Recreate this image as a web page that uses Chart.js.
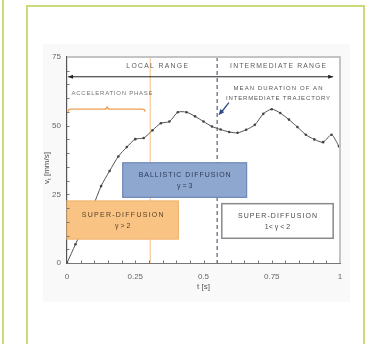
<!DOCTYPE html>
<html>
<head>
<meta charset="utf-8">
<script src="https://cdn.jsdelivr.net/npm/chart.js@4.4.1/dist/chart.umd.min.js"></script>
<style>
  html, body { margin: 0; padding: 0; background: #fff; width: 374px; height: 344px; overflow: hidden; }
  #rule { position: absolute; left: 2px; top: 0; width: 2px; height: 344px; background: #c9dc7c; }
  #panel { position: absolute; left: 26px; top: 5px; width: 335px; height: 400px;
           border: 2px solid #c9dc7c; border-bottom: none; }
  #wrap { position: absolute; left: 0; top: 0; width: 374px; height: 344px; }
</style>
</head>
<body>
<div id="rule"></div>
<div id="panel"></div>
<div id="wrap"><canvas id="c" width="374" height="344"></canvas></div>
<script>
// Tangential speed of the tracked particle over the first second
const timeS = [0, 0.031, 0.063, 0.094, 0.125, 0.156, 0.188, 0.219, 0.25, 0.281, 0.313,
               0.344, 0.375, 0.406, 0.438, 0.469, 0.5, 0.531, 0.563, 0.594, 0.625,
               0.656, 0.688, 0.719, 0.75, 0.781, 0.813, 0.844, 0.875, 0.906, 0.938,
               0.969, 0.996];
const speedMmS = [0, 6.8, 13.6, 20.3, 28, 33.5, 38.8, 42.2, 45.1, 45.5, 48.3,
                  50.9, 51.5, 54.9, 54.9, 53.4, 51.5, 49.7, 48.6, 47.7, 47.4,
                  48.5, 50.3, 54.3, 56, 54.6, 52.2, 49.5, 46.7, 45.0, 44.0,
                  46.7, 42.5];

const xTickValues = [0, 0.25, 0.5, 0.75, 1];
const xTickLabels = ['0', '0.25', '0.5', '0.75', '1'];
const yTickValues = [0, 25, 50, 75];
const yTickLabels = ['0', '25', '50', '75'];

// Phase markers (seconds)
const accelerationEnd = 0.305;
const meanTrajectoryDuration = 0.55;

const FONT = '"Liberation Sans", Arial, Helvetica, sans-serif';

function spacedText(ctx, str, cx, cy, width, size, color) {
  ctx.save();
  ctx.font = size + 'px ' + FONT;
  ctx.letterSpacing = '0px';
  const w0 = ctx.measureText(str).width;
  const ls = Math.max(0, (width - w0) / str.length);
  ctx.letterSpacing = ls.toFixed(2) + 'px';
  ctx.fillStyle = color;
  ctx.textAlign = 'center';
  ctx.textBaseline = 'middle';
  ctx.fillText(str, cx + ls / 2, cy);
  ctx.restore();
}

function arrowHead(ctx, x, y, dir, len, half) {
  ctx.beginPath();
  ctx.moveTo(x, y);
  ctx.lineTo(x - dir * len, y - half);
  ctx.lineTo(x - dir * len, y + half);
  ctx.closePath();
  ctx.fill();
}

const decor = {
  id: 'decor',
  beforeDraw(chart) {
    const { ctx, chartArea: a } = chart;
    ctx.save();
    ctx.fillStyle = '#f9f9f9';
    ctx.fillRect(43, 44, 307, 258);
    ctx.fillStyle = '#ffffff';
    ctx.fillRect(a.left, a.top, a.right - a.left, a.bottom - a.top);
    ctx.restore();
  },
  beforeDatasetsDraw(chart) {
    const { ctx, chartArea: a, scales: { x, y } } = chart;
    ctx.save();

    // end of the acceleration phase
    const xa = x.getPixelForValue(accelerationEnd);
    ctx.strokeStyle = 'rgba(246,198,146,0.85)';
    ctx.lineWidth = 1.3;
    ctx.beginPath(); ctx.moveTo(xa, a.top); ctx.lineTo(xa, a.bottom); ctx.stroke();

    // mean duration of an intermediate trajectory
    const xm = x.getPixelForValue(meanTrajectoryDuration);
    ctx.strokeStyle = '#56627e';
    ctx.lineWidth = 1.2;
    ctx.setLineDash([4, 3]);
    ctx.beginPath(); ctx.moveTo(xm, a.top); ctx.lineTo(xm, a.bottom); ctx.stroke();
    ctx.setLineDash([]);

    // local / intermediate range double arrow
    const ya = y.getPixelForValue(67.8);
    const x0 = x.getPixelForValue(0.004), x1 = x.getPixelForValue(0.975);
    ctx.strokeStyle = '#222';
    ctx.fillStyle = '#222';
    ctx.lineWidth = 1;
    ctx.beginPath(); ctx.moveTo(x0, ya); ctx.lineTo(x1, ya); ctx.stroke();
    arrowHead(ctx, x0, ya, -1, 5, 2);
    arrowHead(ctx, x1, ya, 1, 5, 2);

    spacedText(ctx, 'LOCAL RANGE', x.getPixelForValue(0.33), y.getPixelForValue(71.5), 63, 6.8, '#5a5a5a');
    spacedText(ctx, 'INTERMEDIATE RANGE', x.getPixelForValue(0.773), y.getPixelForValue(71.5), 97, 6.8, '#5a5a5a');

    // acceleration phase brace
    const yb = y.getPixelForValue(56);
    const b0 = x.getPixelForValue(0.004), b1 = x.getPixelForValue(0.286), bm = x.getPixelForValue(0.147);
    ctx.strokeStyle = '#f0a050';
    ctx.lineWidth = 1.2;
    ctx.beginPath();
    ctx.moveTo(b0, yb + 2.5);
    ctx.quadraticCurveTo(b0, yb, b0 + 3, yb);
    ctx.lineTo(bm - 3, yb);
    ctx.quadraticCurveTo(bm, yb, bm, yb - 3);
    ctx.quadraticCurveTo(bm, yb, bm + 3, yb);
    ctx.lineTo(b1 - 3, yb);
    ctx.quadraticCurveTo(b1, yb, b1, yb + 2.5);
    ctx.stroke();
    spacedText(ctx, 'ACCELERATION PHASE', x.getPixelForValue(0.165), y.getPixelForValue(61.7), 82, 6, '#777');

    // mean duration note and pointer
    spacedText(ctx, 'MEAN DURATION OF AN', x.getPixelForValue(0.773), y.getPixelForValue(63.5), 90, 6, '#555');
    spacedText(ctx, 'INTERMEDIATE TRAJECTORY', x.getPixelForValue(0.773), y.getPixelForValue(59.9), 105, 6, '#555');
    const tx = x.getPixelForValue(0.593), ty = y.getPixelForValue(58.4);
    const hx = x.getPixelForValue(0.555), hy = y.getPixelForValue(53.8);
    ctx.strokeStyle = '#2f4a8a';
    ctx.fillStyle = '#2f4a8a';
    ctx.lineWidth = 1.3;
    ctx.beginPath(); ctx.moveTo(tx, ty); ctx.lineTo(hx + 2, hy - 2); ctx.stroke();
    const ang = Math.atan2(hy - ty, hx - tx);
    ctx.beginPath();
    ctx.moveTo(hx, hy);
    ctx.lineTo(hx - 6 * Math.cos(ang) + 2.5 * Math.sin(ang), hy - 6 * Math.sin(ang) - 2.5 * Math.cos(ang));
    ctx.lineTo(hx - 6 * Math.cos(ang) - 2.5 * Math.sin(ang), hy - 6 * Math.sin(ang) + 2.5 * Math.cos(ang));
    ctx.closePath(); ctx.fill();

    ctx.restore();
  },
  afterDatasetsDraw(chart) {
    const { ctx, chartArea: a, scales: { x, y } } = chart;
    ctx.save();

    function box(t0, t1, v0, v1, fill, stroke, lw, lines) {
      const l = x.getPixelForValue(t0), r = x.getPixelForValue(t1);
      const tp = y.getPixelForValue(v0), bt = y.getPixelForValue(v1);
      ctx.fillStyle = fill;
      ctx.fillRect(l, tp, r - l, bt - tp);
      ctx.strokeStyle = stroke;
      ctx.lineWidth = lw;
      ctx.strokeRect(l, tp, r - l, bt - tp);
      const cx = (l + r) / 2, cy = (tp + bt) / 2;
      spacedText(ctx, lines[0], cx, cy - 5, lines[2], 7, lines[3]);
      spacedText(ctx, lines[1], cx, cy + 6, 0, 7, lines[3]);
    }
    box(0.204, 0.658, 36.5, 23.9, '#8ea7cf', '#7088b8', 1.2,
        ['BALLISTIC DIFFUSION', 'γ = 3', 93, '#2f3a55']);
    box(0.0, 0.408, 22.6, 8.7, '#f8c383', '#f2b572', 1.2,
        ['SUPER-DIFFUSION', 'γ > 2', 83, '#5a4228']);
    box(0.567, 0.975, 21.6, 9.0, '#ffffff', '#8a8a8a', 1.5,
        ['SUPER-DIFFUSION', '1< γ < 2', 80, '#4a4a4a']);

    // frame on top and right
    ctx.strokeStyle = '#c4c4c4';
    ctx.lineWidth = 2;
    ctx.beginPath();
    ctx.moveTo(a.left, a.top); ctx.lineTo(a.right, a.top); ctx.lineTo(a.right, a.bottom);
    ctx.stroke();

    // minor ticks pointing inward
    ctx.strokeStyle = '#777';
    ctx.lineWidth = 1;
    ctx.beginPath();
    for (let k = 1; k < 20; k++) {
      const px = Math.round(x.getPixelForValue(k * 0.05)) + 0.5;
      ctx.moveTo(px, a.bottom); ctx.lineTo(px, a.bottom - 2.5);
    }
    for (let k = 1; k < 15; k++) {
      const py = Math.round(y.getPixelForValue(k * 5)) + 0.5;
      ctx.moveTo(a.left, py); ctx.lineTo(a.left + 2.5, py);
    }
    ctx.stroke();

    // axis titles
    ctx.fillStyle = '#555';
    ctx.textAlign = 'center';
    ctx.textBaseline = 'middle';
    ctx.font = '8px ' + FONT;
    ctx.fillText('t [s]', x.getPixelForValue(0.5), 287);
    ctx.translate(47, 168);
    ctx.rotate(-Math.PI / 2);
    ctx.textAlign = 'left';
    const main = 'v', sub = 't', rest = ' [mm/s]';
    const wMain = ctx.measureText(main).width;
    const wRest = ctx.measureText(rest).width;
    ctx.font = '6px ' + FONT;
    const wSub = ctx.measureText(sub).width;
    const total = wMain + wSub + wRest;
    let cx = -total / 2;
    ctx.font = '8px ' + FONT;
    ctx.fillText(main, cx, 0); cx += wMain;
    ctx.font = '6px ' + FONT;
    ctx.fillText(sub, cx, 2); cx += wSub;
    ctx.font = '8px ' + FONT;
    ctx.fillText(rest, cx, 0);
    ctx.restore();
  }
};

new Chart(document.getElementById('c'), {
  type: 'line',
  data: {
    datasets: [{
      data: timeS.map((t, i) => ({ x: t, y: speedMmS[i] })),
      borderColor: '#555',
      borderWidth: 1,
      backgroundColor: '#444',
      pointRadius: 1.3,
      pointBorderWidth: 0,
      tension: 0.25,
      fill: false
    }]
  },
  options: {
    responsive: false,
    animation: false,
    devicePixelRatio: 1,
    layout: { padding: { left: 0, top: 57, right: 34, bottom: 0 } },
    plugins: { legend: { display: false }, tooltip: { enabled: false } },
    scales: {
      x: {
        type: 'linear', min: 0, max: 1,
        afterFit: s => { s.height = 81; },
        afterBuildTicks: s => { s.ticks = xTickValues.map(v => ({ value: v })); },
        ticks: {
          callback: (v, i) => xTickLabels[i],
          color: '#666', font: { size: 8, family: FONT },
          padding: 9, maxRotation: 0, autoSkip: false
        },
        grid: { display: false, drawTicks: false },
        border: { display: true, color: '#777', width: 1 }
      },
      y: {
        type: 'linear', min: 0, max: 75,
        afterFit: s => { s.width = 67; },
        afterBuildTicks: s => { s.ticks = yTickValues.map(v => ({ value: v })); },
        ticks: {
          callback: (v, i) => yTickLabels[i],
          color: '#666', font: { size: 8, family: FONT },
          padding: 6, autoSkip: false
        },
        grid: { display: false, drawTicks: false },
        border: { display: true, color: '#555', width: 1.2 }
      }
    }
  },
  plugins: [decor]
});
</script>
</body>
</html>
